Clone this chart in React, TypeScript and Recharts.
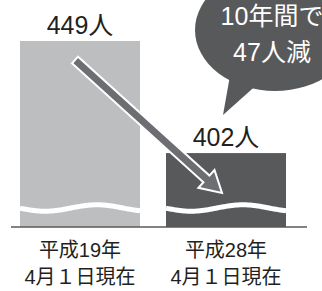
import React from 'react';
import { BarChart, Bar, XAxis, YAxis, Cell, LabelList } from 'recharts';

// ---- data ----
const categoriesLine1 = ['平成19年', '平成28年'];
const categoriesLine2 = ['4月１日現在', '4月１日現在'];
const values = [449, 402];
const unit = '人';
const calloutLines = ['10年間で', '47人減'];
const barColors = ['#bcbec0', '#58595b'];

const data = categoriesLine1.map((c, i) => ({ key: c, value: values[i] }));

const W = 322;
const H = 291;
const FONT = "'Liberation Sans', Arial, 'Noto Sans CJK JP', sans-serif";
const TEXT_COLOR = '#231f20';

function WaveBar(props: any) {
  const { x, y, width, height, fill } = props;
  const bottom = y + height;
  const base = bottom - 19;
  let d = '';
  for (let px = 0; px <= width + 0.01; px += 2) {
    const yy = base + 3.2 * Math.cos((2 * Math.PI * (px - 25)) / 104);
    d += (px === 0 ? 'M' : 'L') + (x + px).toFixed(2) + ',' + yy.toFixed(2);
  }
  return (
    <g>
      <rect x={x} y={y} width={width} height={height} fill={fill} />
      <path d={d} stroke="#ffffff" strokeWidth={5} fill="none" />
    </g>
  );
}

function CatTick(props: any) {
  const { x, y, payload } = props;
  const i = categoriesLine1.indexOf(payload.value);
  return (
    <g>
      <text x={x} y={y + 30} textAnchor="middle" fontSize={20} fontFamily={FONT} fill={TEXT_COLOR}>
        {payload.value}
      </text>
      <text x={x} y={y + 57} textAnchor="middle" fontSize={20} fontFamily={FONT} fill={TEXT_COLOR}>
        {categoriesLine2[i]}
      </text>
    </g>
  );
}

function ValueLabel(props: any) {
  const { x, y, width, value } = props;
  return (
    <text x={x + width / 2} y={y - 7.5} textAnchor="middle" fontSize={25} fontFamily={FONT} fill={TEXT_COLOR}>
      {value}
      {unit}
    </text>
  );
}

function Annotations() {
  // arrow
  const S = [75, 60];
  const T = [222, 193];
  const dx = T[0] - S[0];
  const dy = T[1] - S[1];
  const len = Math.hypot(dx, dy);
  const u = [dx / len, dy / len];
  const n = [-u[1], u[0]];
  const hw = 4.5;
  const headLen = 21;
  const headHw = 12;
  const B = [T[0] - headLen * u[0], T[1] - headLen * u[1]];
  const pt = (p: number[], k: number) => `${(p[0] + k * n[0]).toFixed(2)},${(p[1] + k * n[1]).toFixed(2)}`;
  const arrowPts = [
    pt(S, hw),
    pt(B, hw),
    pt(B, headHw),
    `${T[0]},${T[1]}`,
    pt(B, -headHw),
    pt(B, -hw),
    pt(S, -hw),
  ].join(' ');
  return (
    <svg
      width={W}
      height={H}
      style={{ position: 'absolute', left: 0, top: 0, pointerEvents: 'none', overflow: 'hidden' }}
    >
      <polygon points={arrowPts} fill="#6d6e71" stroke="#ffffff" strokeWidth={2} strokeLinejoin="miter" />
      <ellipse cx={275} cy={30} rx={80} ry={61} fill="#58595b" />
      <polygon points="231,70 256,85.5 223,115" fill="#58595b" />
      <text x={272} y={25} textAnchor="middle" fontSize={25} fontFamily={FONT} fill="#ffffff">
        {calloutLines[0]}
      </text>
      <text x={272} y={61} textAnchor="middle" fontSize={25} fontFamily={FONT} fill="#ffffff">
        {calloutLines[1]}
      </text>
    </svg>
  );
}

export default function App() {
  return (
    <div style={{ position: 'absolute', left: 0, top: 0, width: W, height: H, background: '#ffffff', overflow: 'hidden' }}>
      <BarChart width={W} height={H} data={data} margin={{ top: 41, right: 15, left: 11, bottom: 0 }}>
        <XAxis
          dataKey="key"
          axisLine={{ stroke: '#58595b', strokeWidth: 1.5 }}
          tickLine={false}
          tickSize={0}
          tickMargin={0}
          tick={<CatTick />}
          height={64}
          interval={0}
          padding={{ left: -4, right: 8 }}
        />
        <YAxis hide domain={[371, 449]} allowDataOverflow />
        <Bar dataKey="value" barSize={120} isAnimationActive={false} shape={<WaveBar />}>
          {data.map((d, i) => (
            <Cell key={d.key} fill={barColors[i]} />
          ))}
          <LabelList dataKey="value" content={<ValueLabel />} />
        </Bar>
      </BarChart>
      <Annotations />
    </div>
  );
}
